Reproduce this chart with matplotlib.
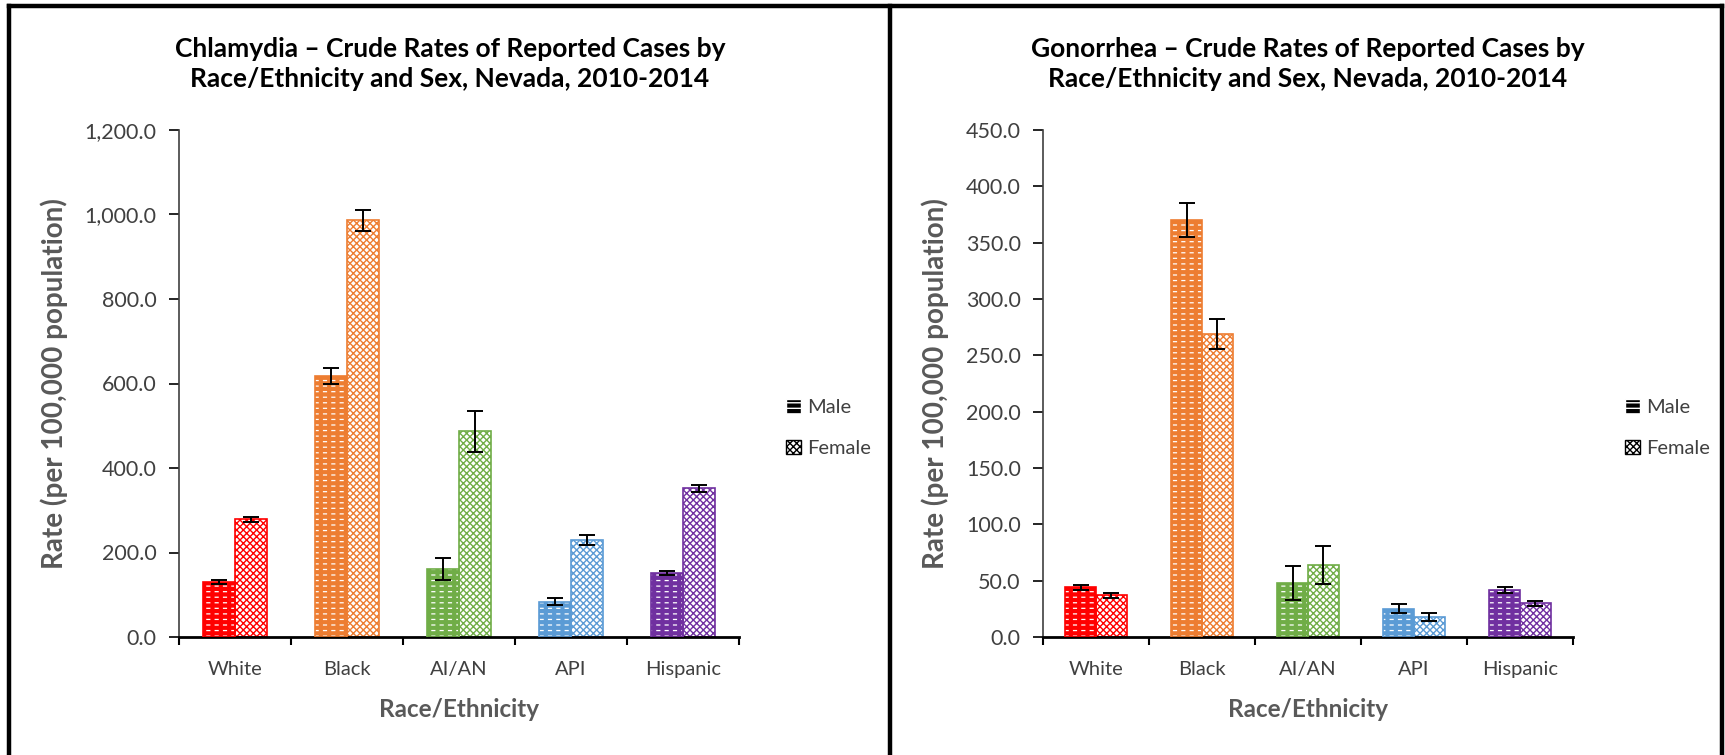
import matplotlib
matplotlib.use("Agg")
import matplotlib.pyplot as plt
from matplotlib.patches import Patch
from matplotlib.lines import Line2D
import numpy as np

# data
groups = ["White", "Black", "AI/AN", "API", "Hispanic"]
colors = ["#FF0000", "#ED7D31", "#70AD47", "#5B9BD5", "#7030A0"]

chl_male = [130, 618, 160, 84, 151]
chl_male_err = [4, 19, 26, 8, 5]
chl_female = [279, 986, 487, 230, 352]
chl_female_err = [6, 25, 48, 12, 8]

gon_male = [44, 370, 48, 25, 42]
gon_male_err = [2.5, 15, 15, 4, 2.6]
gon_female = [37, 269, 64, 17.5, 30]
gon_female_err = [2, 13, 17, 3.4, 2.3]

plt.rcParams["font.family"] = ["Lato", "DejaVu Sans"]
plt.rcParams["hatch.linewidth"] = 1.0

fig = plt.figure(figsize=(17.25, 7.55), dpi=100)
W, H = 1725.0, 755.0


def draw_panel(ax, male, male_err, female, female_err, ymax, step, title, title_x):
    x = np.arange(len(groups))
    bw = 0.29
    for i in range(len(groups)):
        c = colors[i]
        # male: solid colour with white stripes, broken into dashes
        with plt.rc_context({"hatch.linewidth": 0.9}):
            ax.bar(x[i] - bw / 2, male[i], bw, color=c, edgecolor="white",
                   hatch="---", linewidth=0, zorder=2)
        with plt.rc_context({"hatch.linewidth": 3.0}):
            ax.bar(x[i] - bw / 2, male[i], bw, fill=False, edgecolor=c,
                   hatch="||", linewidth=0, zorder=2.5)
        ax.bar(x[i] - bw / 2, male[i], bw, fill=False, edgecolor=c,
               linewidth=1.2, zorder=3)
        # female: checker look
        ax.bar(x[i] + bw / 2, female[i], bw, color="white", edgecolor=c,
               hatch="xxxxx", linewidth=1.2, zorder=2)
    ax.errorbar(x - bw / 2, male, yerr=male_err, fmt="none", ecolor="black",
                elinewidth=1.4, capsize=6, capthick=1.4, zorder=4)
    ax.errorbar(x + bw / 2, female, yerr=female_err, fmt="none", ecolor="black",
                elinewidth=1.4, capsize=6, capthick=1.4, zorder=4)

    ax.set_xlim(-0.5, len(groups) - 0.5)
    ax.set_ylim(0, ymax)
    ax.set_yticks(np.arange(0, ymax + step / 2, step))
    ax.set_yticklabels([f"{v:,.1f}" for v in np.arange(0, ymax + step / 2, step)])
    ax.set_xticks(x)
    ax.set_xticklabels(groups)
    ax.set_xticks(np.arange(-0.5, len(groups)), minor=True)
    ax.tick_params(axis="x", which="major", length=0, labelsize=14.5,
                   pad=17, colors="#404040")
    ax.tick_params(axis="x", which="minor", length=6, width=1.5, color="black")
    ax.tick_params(axis="y", length=7, width=1.2, labelsize=15.5, pad=9,
                   colors="black", labelcolor="#404040")
    for s in ["top", "right"]:
        ax.spines[s].set_visible(False)
    ax.spines["bottom"].set_linewidth(2)
    ax.spines["left"].set_linewidth(1.2)
    ax.spines["left"].set_color("#404040")

    ax.set_xlabel("Race/Ethnicity", fontsize=17.5, fontweight="bold",
                  color="#595959", labelpad=15)
    ax.set_ylabel("Rate (per 100,000 population)", fontsize=20,
                  fontweight="bold", color="#595959", labelpad=12)
    fig.text(title_x, 1 - 64 / H, title, ha="center", va="center",
             fontsize=19, fontweight="bold", linespacing=1.3)

    handles = [Patch(facecolor="black", edgecolor="white", hatch="---", label="Male"),
               Patch(facecolor="white", edgecolor="black", hatch="xxxxx", label="Female")]
    return handles


ax1 = fig.add_axes([179 / W, 1 - 637 / H, 560 / W, 507 / H])
h = draw_panel(ax1, chl_male, chl_male_err, chl_female, chl_female_err, 1200, 200,
               "Chlamydia \u2013 Crude Rates of Reported Cases by\nRace/Ethnicity and Sex, Nevada, 2010-2014",
               450 / W)
ax1.legend(handles=h, loc="center left", bbox_to_anchor=(768 / W, 1 - 428 / H),
           bbox_transform=fig.transFigure, frameon=False, fontsize=14.5,
           handlelength=0.75, handleheight=0.75, handletextpad=0.3,
           labelspacing=1.15, labelcolor="#404040")

ax2 = fig.add_axes([1043 / W, 1 - 637 / H, 530 / W, 507 / H])
h = draw_panel(ax2, gon_male, gon_male_err, gon_female, gon_female_err, 450, 50,
               "Gonorrhea \u2013 Crude Rates of Reported Cases by\nRace/Ethnicity and Sex, Nevada, 2010-2014",
               1308 / W)
ax2.legend(handles=h, loc="center left", bbox_to_anchor=(1607 / W, 1 - 428 / H),
           bbox_transform=fig.transFigure, frameon=False, fontsize=14.5,
           handlelength=0.75, handleheight=0.75, handletextpad=0.3,
           labelspacing=1.15, labelcolor="#404040")

# panel borders
for xs, ys in [([9 / W, 9 / W], [0, 1 - 6 / H]),
               ([9 / W, 1722 / W], [1 - 6 / H, 1 - 6 / H]),
               ([890 / W, 890 / W], [0, 1 - 6 / H]),
               ([1722 / W, 1722 / W], [0, 1 - 6 / H])]:
    fig.add_artist(Line2D(xs, ys, color="black", linewidth=3.2,
                          transform=fig.transFigure))

fig.savefig("out.png", dpi=100)
